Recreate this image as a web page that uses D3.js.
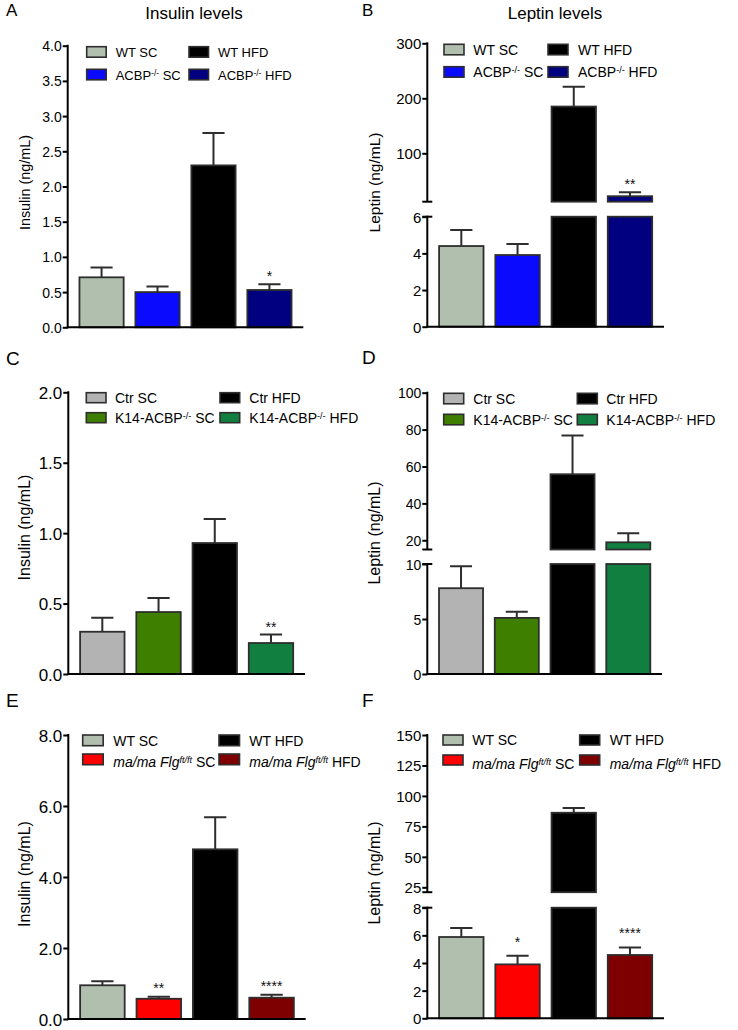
<!DOCTYPE html>
<html lang="en">
<head>
<meta charset="UTF-8">
<title>Insulin and leptin levels</title>
<script src="https://d3js.org/d3.v7.min.js"></script>
<style>
    body { margin: 0; background: #fff; }
    svg { display: block; font-family: 'Liberation Sans', Arial, Helvetica, sans-serif; }
    .bar { stroke: #2e2e2e; stroke-width: 1.8px; }
    .err { stroke: #2e2e2e; stroke-width: 2px; fill: none; }
    .axis-line { stroke: #000; stroke-width: 2px; }
    .tick line { stroke: #000; stroke-width: 2px; }
    .tick text { fill: #000; }
    .swatch { stroke: #2e2e2e; stroke-width: 1.6px; }
</style>
</head>
<body>
<div id="chart"></div>
<script>
// ---- data ----
const groupsA = ["WT SC", "ACBP<sup>-/-</sup> SC", "WT HFD", "ACBP<sup>-/-</sup> HFD"];
const groupsC = ["Ctr SC", "K14-ACBP<sup>-/-</sup> SC", "Ctr HFD", "K14-ACBP<sup>-/-</sup> HFD"];
const groupsE = ["WT SC", "<i>ma/ma Flg</i><sup><i>ft/ft</i></sup> SC", "WT HFD", "<i>ma/ma Flg</i><sup><i>ft/ft</i></sup> HFD"];

const colorsA = ["#b1bfae", "#0a0aff", "#000000", "#000080"];
const colorsC = ["#b3b3b3", "#3f7f00", "#000000", "#117f40"];
const colorsE = ["#b1bfae", "#ff0000", "#000000", "#7f0000"];

const insulinA = [0.71, 0.50, 2.30, 0.53];
const insulinASem = [0.14, 0.08, 0.46, 0.08];
const leptinB = [4.40, 3.91, 185, 22];
const leptinBSem = [0.87, 0.60, 36, 7];
const insulinC = [0.30, 0.44, 0.93, 0.22];
const insulinCSem = [0.10, 0.10, 0.17, 0.06];
const leptinD = [7.8, 5.1, 55.8, 18.9];
const leptinDSem = [2.0, 0.55, 21, 4.9];
const insulinE = [0.95, 0.57, 4.78, 0.60];
const insulinESem = [0.11, 0.06, 0.90, 0.08];
const leptinF = [5.88, 3.90, 86.2, 4.58];
const leptinFSem = [0.65, 0.63, 3.9, 0.55];

const starsA = ["", "", "", "*"];
const starsB = ["", "", "", "**"];
const starsC = ["", "", "", "**"];
const starsD = ["", "", "", ""];
const starsE = ["", "**", "", "****"];
const starsF = ["", "*", "", "****"];

const ticksA = [0, 0.5, 1.0, 1.5, 2.0, 2.5, 3.0, 3.5, 4.0];
const ticksBLow = [0, 2, 4, 6];
const ticksBHigh = [100, 200, 300];
const ticksC = [0, 0.5, 1.0, 1.5, 2.0];
const ticksDLow = [0, 5, 10];
const ticksDHigh = [20, 40, 60, 80, 100];
const ticksE = [0, 2, 4, 6, 8];
const ticksFLow = [0, 2, 4, 6, 8];
const ticksFHigh = [25, 50, 75, 100, 125, 150];

// ---- layout ----
const width = 738, height = 1030;
const svg = d3.select("#chart").append("svg")
    .attr("width", width).attr("height", height);

const panels = [
    { letter: "A", lx: 6, ly: 16, letterSize: 17, title: "Insulin levels", tx: 194, ty: 19,
      ylabel: "Insulin (ng/mL)", yl: [30, 182.5], ylSize: 14.4,
      axisX: 67.7, axisEnd: 303.3, tickSize: 14, fmt: ".1f",
      segments: [{ domain: [0, 4], range: [327.3, 45.7], ticks: ticksA }],
      values: insulinA, sem: insulinASem, stars: starsA, starGap: 3,
      groups: groupsA, colors: colorsA,
      legend: { swX: [86.7, 189], txX: [115.7, 218], tops: [46.7, 69.3], w: 19.5, h: 10.5, size: 13, base2: 0 } },
    { letter: "B", lx: 362, ly: 16, letterSize: 17, title: "Leptin levels", tx: 555, ty: 18.5,
      ylabel: "Leptin (ng/mL)", yl: [380, 182.5], ylSize: 15.5,
      axisX: 427.3, axisEnd: 664, tickSize: 15, fmt: "d",
      segments: [{ domain: [0, 6], range: [326.7, 216.7], ticks: ticksBLow },
                 { domain: [12, 300], range: [201.7, 43.3], ticks: ticksBHigh }],
      values: leptinB, sem: leptinBSem, stars: starsB, starGap: 3,
      groups: groupsA, colors: colorsA,
      legend: { swX: [444, 548], txX: [473.3, 578], tops: [44.3, 66.7], w: 20, h: 10.5, size: 14, base2: 0 } },
    { letter: "C", lx: 6, ly: 365, letterSize: 19,
      ylabel: "Insulin (ng/mL)", yl: [29.5, 527.5], ylSize: 16,
      axisX: 68.3, axisEnd: 305, tickSize: 17, fmt: ".1f",
      segments: [{ domain: [0, 2], range: [674, 392.3], ticks: ticksC }],
      values: insulinC, sem: insulinCSem, stars: starsC, starGap: 3,
      groups: groupsC, colors: colorsC,
      legend: { swX: [86.3, 220], txX: [115, 249.3], tops: [392.7, 412.7], w: 19.7, h: 10, size: 14, base2: 0 } },
    { letter: "D", lx: 362, ly: 364, letterSize: 19,
      ylabel: "Leptin (ng/mL)", yl: [380, 533], ylSize: 16,
      axisX: 427.3, axisEnd: 662, tickSize: 14, fmt: "d",
      segments: [{ domain: [0, 10], range: [674, 564], ticks: ticksDLow },
                 { domain: [15, 100], range: [549.5, 392.7], ticks: ticksDHigh }],
      values: leptinD, sem: leptinDSem, stars: starsD, starGap: 3,
      groups: groupsC, colors: colorsC,
      legend: { swX: [443.7, 577.3], txX: [473.3, 606.3], tops: [393.3, 414.3], w: 20, h: 10.5, size: 14, base2: 0 } },
    { letter: "E", lx: 6, ly: 707, letterSize: 19,
      ylabel: "Insulin (ng/mL)", yl: [29.5, 874], ylSize: 16,
      axisX: 68.3, axisEnd: 305.7, tickSize: 17, fmt: ".1f",
      segments: [{ domain: [0, 8], range: [1019, 735], ticks: ticksE }],
      values: insulinE, sem: insulinESem, stars: starsE, starGap: 3.5,
      groups: groupsE, colors: colorsE,
      legend: { swX: [82.7, 219], txX: [113.3, 249.3], tops: [735, 754], w: 20.5, h: 10.7, size: 14, base2: 2.5 } },
    { letter: "F", lx: 362, ly: 707, letterSize: 19,
      ylabel: "Leptin (ng/mL)", yl: [380, 873], ylSize: 16,
      axisX: 427.3, axisEnd: 664, tickSize: 15, fmt: "d",
      segments: [{ domain: [0, 8], range: [1018.3, 907.7], ticks: ticksFLow },
                 { domain: [21, 150], range: [892.2, 735], ticks: ticksFHigh }],
      values: leptinF, sem: leptinFSem, stars: starsF, starGap: 9,
      groups: groupsE, colors: colorsE,
      legend: { swX: [443, 579.7], txX: [472.3, 609.7], tops: [735, 755], w: 20, h: 10, size: 14, base2: 4 } }
];

// tiny markup -> tspans (<i>, <sup>)
function richText(sel, markup, size) {
    const re = /<(\/?)(i|sup)>|[^<]+/g;
    let m, italic = false, sup = false;
    while ((m = re.exec(markup)) !== null) {
        if (m[2]) {
            const on = m[1] !== "/";
            if (m[2] === "i") italic = on; else sup = on;
            continue;
        }
        const t = sel.append("tspan").text(m[0]);
        if (italic) t.attr("font-style", "italic");
        if (sup) t.attr("font-size", size * 0.65).attr("baseline-shift", "45%");
    }
}

function drawPanel(p) {
    const g = svg.append("g");

    const x = d3.scaleBand()
        .domain(d3.range(p.values.length))
        .range([p.axisX, p.axisEnd])
        .paddingInner(0.21)
        .paddingOuter(0.21);

    const segs = p.segments.map(s => Object.assign({}, s, {
        y: d3.scaleLinear().domain(s.domain).range(s.range)
    }));

    const rows = p.values.map((v, i) => ({ i, v, top: v + p.sem[i], color: p.colors[i], star: p.stars[i] }));

    // bars, split across the axis break
    segs.forEach(s => {
        const [lo, hi] = s.domain;
        g.append("g").selectAll("rect")
            .data(rows.filter(d => d.v > lo))
            .join("rect")
            .attr("class", "bar")
            .attr("x", d => x(d.i))
            .attr("width", x.bandwidth())
            .attr("y", d => s.y(Math.min(d.v, hi)))
            .attr("height", d => s.y(lo) - s.y(Math.min(d.v, hi)))
            .attr("fill", d => d.color);
    });

    const segFor = v => segs.find(s => v >= s.domain[0] && v <= s.domain[1]) || segs[segs.length - 1];

    // error bars (upper only) with caps
    const cap = x.bandwidth() / 4;
    g.append("g").selectAll("path")
        .data(rows)
        .join("path")
        .attr("class", "err")
        .attr("d", d => {
            const s = segFor(d.top);
            const cx = x(d.i) + x.bandwidth() / 2;
            const y0 = s.y(Math.min(d.v, s.domain[1])), y1 = s.y(d.top);
            return `M${cx},${y0}V${y1}M${cx - cap},${y1}H${cx + cap}`;
        });

    // significance stars
    g.append("g").selectAll("text")
        .data(rows.filter(d => d.star))
        .join("text")
        .attr("x", d => x(d.i) + x.bandwidth() / 2)
        .attr("y", d => segFor(d.top).y(d.top) - p.starGap)
        .attr("text-anchor", "middle")
        .attr("font-size", 14)
        .attr("fill", "#111")
        .text(d => d.star);

    // y axis segments
    segs.forEach((s, k) => {
        const ax = g.append("g")
            .attr("transform", `translate(${p.axisX},0)`)
            .call(d3.axisLeft(s.y)
                .tickValues(s.ticks)
                .tickSize(5)
                .tickSizeOuter(0)
                .tickPadding(1)
                .tickFormat(d3.format(p.fmt)));
        ax.select(".domain").remove();
        ax.selectAll(".tick text").attr("font-size", p.tickSize).attr("dy", "0.36em");
        g.append("line").attr("class", "axis-line")
            .attr("x1", p.axisX).attr("x2", p.axisX)
            .attr("y1", s.range[0] + (k === 0 ? 1 : 0)).attr("y2", s.range[1] - 1);
        if (segs.length > 1) {
            const yb = k === 0 ? s.range[1] : s.range[0];
            g.append("line").attr("class", "axis-line")
                .attr("x1", p.axisX - 5).attr("x2", p.axisX + 5)
                .attr("y1", yb).attr("y2", yb);
        }
    });

    // x axis baseline
    const y0 = segs[0].y(0);
    g.append("line").attr("class", "axis-line")
        .attr("x1", p.axisX - 1).attr("x2", p.axisEnd)
        .attr("y1", y0).attr("y2", y0);

    // y label
    g.append("text")
        .attr("transform", `translate(${p.yl[0]},${p.yl[1]}) rotate(-90)`)
        .attr("text-anchor", "middle")
        .attr("font-size", p.ylSize)
        .text(p.ylabel);

    // panel letter and title
    g.append("text").attr("x", p.lx).attr("y", p.ly)
        .attr("font-size", p.letterSize).text(p.letter);
    if (p.title) {
        g.append("text").attr("x", p.tx).attr("y", p.ty)
            .attr("text-anchor", "middle").attr("font-size", 17).text(p.title);
    }

    // legend: two columns, two rows
    const L = p.legend;
    const items = p.groups.map((label, i) => ({ label, color: p.colors[i], col: Math.floor(i / 2), row: i % 2 }));
    const leg = g.append("g");
    leg.selectAll("rect")
        .data(items)
        .join("rect")
        .attr("class", "swatch")
        .attr("x", d => L.swX[d.col])
        .attr("y", d => L.tops[d.row])
        .attr("width", L.w)
        .attr("height", L.h)
        .attr("fill", d => d.color);
    leg.selectAll("text")
        .data(items)
        .join("text")
        .attr("x", d => L.txX[d.col])
        .attr("y", d => L.tops[d.row] + L.h + (d.row === 1 ? L.base2 : 0))
        .attr("font-size", L.size)
        .each(function(d) { richText(d3.select(this), d.label, L.size); });
}

panels.forEach(drawPanel);
</script>
</body>
</html>
